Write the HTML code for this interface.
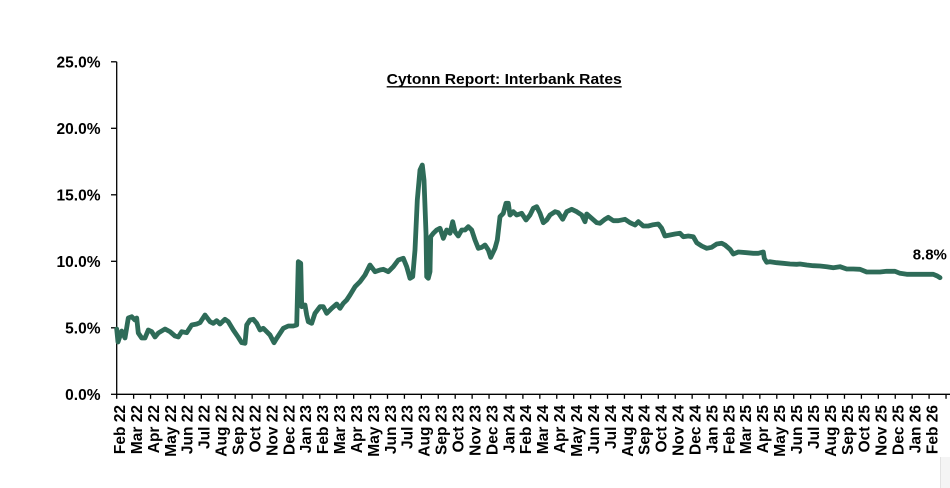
<!DOCTYPE html>
<html>
<head>
<meta charset="utf-8">
<style>
  html,body{margin:0;padding:0;background:#fff;}
  svg{display:block;}
  text{font-family:"Liberation Sans",Arial,sans-serif;font-weight:bold;fill:#000;}
</style>
</head>
<body>
<svg width="950" height="488" viewBox="0 0 950 488" xmlns="http://www.w3.org/2000/svg">
  <rect x="0" y="0" width="950" height="488" fill="#fff"/>
  <!-- bottom-right shadow -->
  <rect x="940" y="457" width="10" height="31" fill="#f4f4f4"/>
  <line x1="940.5" y1="457" x2="940.5" y2="488" stroke="#e2e2e2" stroke-width="1"/>

  <!-- title -->
  <text x="386.7" y="84" font-size="15" textLength="235" lengthAdjust="spacingAndGlyphs">Cytonn Report: Interbank Rates</text>
  <line x1="386.7" y1="86.8" x2="621.7" y2="86.8" stroke="#000" stroke-width="1.4"/>

  <!-- y axis -->
  <line x1="116.7" y1="61.8" x2="116.7" y2="394.3" stroke="#000" stroke-width="1.3"/>
  <g stroke="#000" stroke-width="1.3">
    <line x1="111" y1="394.3" x2="116.7" y2="394.3"/>
    <line x1="111" y1="327.8" x2="116.7" y2="327.8"/>
    <line x1="111" y1="261.3" x2="116.7" y2="261.3"/>
    <line x1="111" y1="194.8" x2="116.7" y2="194.8"/>
    <line x1="111" y1="128.3" x2="116.7" y2="128.3"/>
    <line x1="111" y1="61.8" x2="116.7" y2="61.8"/>
  </g>
  <g font-size="15.5" text-anchor="end">
    <text x="100.5" y="399.8">0.0%</text>
    <text x="100.5" y="333.3">5.0%</text>
    <text x="100.5" y="266.8">10.0%</text>
    <text x="100.5" y="200.3">15.0%</text>
    <text x="100.5" y="133.8">20.0%</text>
    <text x="100.5" y="67.3">25.0%</text>
  </g>

  <!-- x axis -->
  <line x1="116" y1="394.3" x2="950" y2="394.3" stroke="#000" stroke-width="1.3"/>
  <g id="xticks" stroke="#000" stroke-width="1.3"></g>
  <g id="xlabels" font-size="15.5" text-anchor="end"></g>

  <!-- series -->
  <polyline fill="none" stroke="#2e6b58" stroke-width="4.8" stroke-linejoin="round" stroke-linecap="round"
    points="116.7,329 118,342 121.7,331 125,338 128.3,318 131.7,316.7 135,320 136.7,318 138.3,333 141.7,338 145,338 148.3,330 151.7,331.7 155,337 158.3,333 165,329 170,331.7 175,336 178.3,337 181.7,331.7 186.7,332.7 191.7,325 196.7,324 200,322.7 205,315 210,321.7 213.3,323.3 216.7,320.7 220,324 225,319.3 228.3,321.7 233.3,330 238.3,337.3 241.7,342.7 245,343.3 246.7,325 250,320 253.3,319.3 256.7,323.3 260,330 263.3,328.3 266.7,331.7 270,335 274,342.7 276.7,338.3 280,333.3 283.3,328.3 288.3,326 293.3,326 296.7,325 298.3,261.7 300.7,263.3 301.7,306.7 303.3,305 305,305 306.7,315 308.3,321.7 311.7,323.3 315,313.3 320,306.7 323.3,306.7 326.7,313.3 331.7,308.3 336.7,304 340,308.3 343.3,303.3 346.7,300 350,295 355,286.7 360,281.7 365,275 370,265 375,271.7 380,270 383.3,269.3 388.3,271.7 393.3,266.7 398.3,260 403.3,258.3 406.7,266.7 410,278.3 412.7,276.7 415,250 417.3,200 420,170 422.3,165 424,180 426,233 426.7,276.7 428.3,278.3 430,271.7 430.7,236.7 433.3,233.3 436.7,230 440,228.3 443.3,238.3 446.7,230 450,233.3 452.7,221.7 455,231.7 458.3,236 461.7,230 465,230 468.3,226.7 471.7,230 475,240 478.3,248.3 481.7,247.3 485,245 488.3,250 490.7,257.3 495,248.3 497.3,240 500,216.7 503.3,213.3 506,203.3 508.3,203.3 510,215 513.3,211.7 516.7,215 521.7,213.3 526,220 530,215 533.3,208.3 536.7,206.7 540,213.3 543.3,222.7 546.7,220 550,215 555,211.7 558.3,212.7 562.7,219.3 566.7,211.7 571.7,209.3 576.7,211.7 581.7,215 585,221.7 586.7,214 591.7,218.3 596.7,222.7 600,223.3 605,219.3 608.3,217.3 613.3,220.7 618.3,220.7 625,219.3 630,222.7 635,225 638.3,221.7 643.3,226 648.3,226 653.3,224.7 658.3,224 661.7,228.3 665,236 670,235 675,234 680,233.3 683.3,236.7 688.3,236 693.3,236.7 696.7,242.7 701.7,246 706.7,248.3 711.7,247.3 716.7,244 721.7,243.3 725,245 730,249.3 733.3,254 738.3,252 746.7,252.7 753.3,253.3 758.3,253.3 763.3,252 764.3,258.3 766.7,262.3 770,261.7 776.7,262.7 783.3,263.3 790,264 796.7,264.3 800,264 806.7,265 813.3,265.7 820,266 826.7,266.7 833.3,267.7 840,266.7 846.7,269 853.3,269 860,269.3 866.7,272 873.3,272 880,272 886.7,271.3 895,271.3 900,273.3 906.7,274.3 920,274.3 933.3,274.3 937.3,276 940,277.7"/>

  <!-- end label -->
  <text x="912.7" y="259.3" font-size="15">8.8%</text>

  <script>
    (function(){
      var ns="http://www.w3.org/2000/svg";
      var ticks=document.getElementById("xticks");
      var labels=document.getElementById("xlabels");
      var x0=116.7, dx=16.925;
      for(var i=0;i<50;i++){
        var x=x0+i*dx;
        var l=document.createElementNS(ns,"line");
        l.setAttribute("x1",x.toFixed(2));l.setAttribute("x2",x.toFixed(2));
        l.setAttribute("y1","394.3");l.setAttribute("y2","398.8");
        ticks.appendChild(l);
      }
      var m=["Jan","Feb","Mar","Apr","May","Jun","Jul","Aug","Sep","Oct","Nov","Dec"];
      for(var j=0;j<49;j++){
        var mi=(1+j)%12, yr=22+Math.floor((1+j)/12);
        var x=x0+j*dx+8.3;
        var t=document.createElementNS(ns,"text");
        t.setAttribute("transform","translate("+x.toFixed(2)+",405) rotate(-90)");
        t.textContent=m[mi]+" "+yr;
        labels.appendChild(t);
      }
    })();
  </script>
</svg>
</body>
</html>
